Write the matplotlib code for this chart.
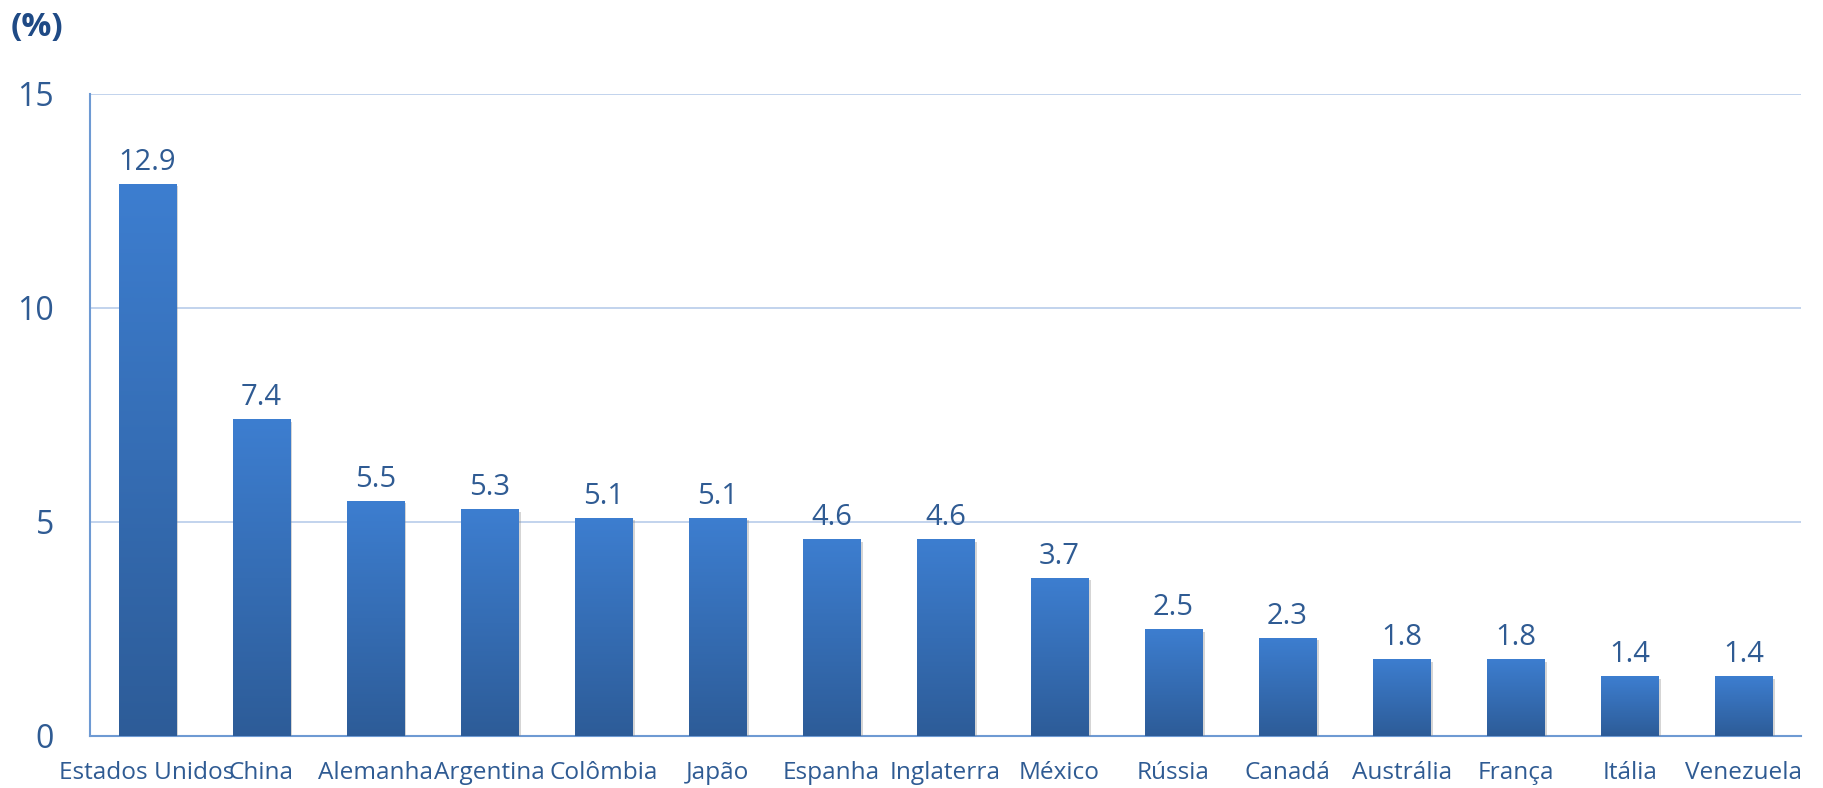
import numpy as np
import matplotlib
matplotlib.use("Agg")
import matplotlib.pyplot as plt
from matplotlib.colors import LinearSegmentedColormap
import matplotlib.patheffects as pe

paises = ["Estados Unidos", "China", "Alemanha", "Argentina", "Colômbia", "Japão",
          "Espanha", "Inglaterra", "México", "Rússia", "Canadá", "Austrália",
          "França", "Itália", "Venezuela"]
valores = [12.9, 7.4, 5.5, 5.3, 5.1, 5.1, 4.6, 4.6, 3.7, 2.5, 2.3, 1.8, 1.8, 1.4, 1.4]
y_ticks = [0, 5, 10, 15]

cor_texto = "#2F5B93"
cor_eixo = "#6E9AD3"
cor_grade = "#B7CCEA"

plt.rcParams['font.family'] = ['Open Sans', 'DejaVu Sans']

fig = plt.figure(figsize=(18.23, 7.88), dpi=100)
ax = fig.add_axes([0.0494, 0.066, 0.9384, 0.815])

# degrade vertical: claro em cima, escuro embaixo
cmap = LinearSegmentedColormap.from_list("barra", ["#2D5C98", "#3D7ED0"])
grad = np.linspace(0, 1, 256).reshape(-1, 1)

x = np.arange(len(paises))
largura = 0.5
barras = ax.bar(x, valores, width=largura, color="#3A78C8", zorder=3,
                path_effects=[pe.SimplePatchShadow(offset=(2, -2), shadow_rgbFace="#888888", alpha=0.35),
                              pe.Normal()])
for b, v in zip(barras, valores):
    x0 = b.get_x()
    im = ax.imshow(grad, extent=[x0, x0 + largura, 0, v], origin="lower",
                   cmap=cmap, aspect="auto", zorder=4)
    im.set_clip_path(b)
    ax.annotate(f"{v:.1f}", (b.get_x() + largura / 2, v), xytext=(0, 5),
                textcoords="offset points", ha="center", va="bottom",
                fontsize=21, color=cor_texto, zorder=5)

ax.set_xlim(-0.5, len(paises) - 0.5)
ax.set_ylim(0, 15)
ax.set_yticks(y_ticks)
ax.set_xticks(x)
ax.set_xticklabels(paises, fontsize=17.6, color=cor_texto)
ax.tick_params(axis="y", length=0, pad=26, labelsize=23, labelcolor=cor_texto)
ax.tick_params(axis="x", length=0, pad=18)

ax.yaxis.grid(True, color=cor_grade, linewidth=1.2, zorder=0)
ax.set_axisbelow(True)
for s in ["top", "right"]:
    ax.spines[s].set_visible(False)
for s in ["left", "bottom"]:
    ax.spines[s].set_color(cor_eixo)
    ax.spines[s].set_linewidth(1.5)

fig.text(0.006, 0.965, "(%)", fontsize=24, fontweight="bold", color="#1F4A85",
         ha="left", va="center")

fig.savefig("out.png", dpi=100)
